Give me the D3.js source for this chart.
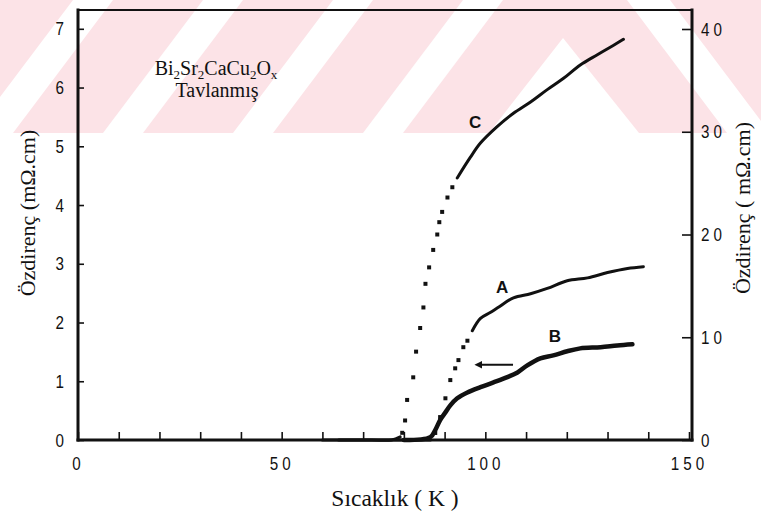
<!DOCTYPE html>
<html>
<head>
<meta charset="utf-8">
<script src="https://cdn.jsdelivr.net/npm/d3@7"></script>
<style>
  body { margin: 0; background: #fff; }
  svg { display: block; }
  .tick text {
    font-family: "Liberation Sans", "DejaVu Sans", sans-serif;
    font-size: 19px; letter-spacing: 5px; fill: #111;
  }
  .serif { font-family: "Liberation Serif", "Times New Roman", serif; fill: #111; }
  .curve-label { font-family: "Liberation Sans", sans-serif; font-weight: bold; font-size: 17px; fill: #111; }
</style>
</head>
<body>
<svg id="chart" width="761" height="514"></svg>
<script>
// ---- axis ticks ----
const xTicks = d3.range(0, 151, 10);
const xLabels = [0, 50, 100, 150];
const leftTicks = [0, 1, 2, 3, 4, 5, 6, 7];
const rightTicks = [0, 10, 20, 30, 40];

// ---- curve C (right axis, mΩ.cm): zero baseline, sparse transition points, dense normal-state trace ----
const cBaseT = [60, 66, 72, 77, 79.1];
const cBaseR = [0, 0, 0, 0, 0.3];
const cDotT = [79.6, 80.3, 80.8, 82.3, 83.0, 84.0, 84.8, 85.3, 86.2, 87.2, 88.2, 88.7, 89.4, 90.7, 91.9];
const cDotR = [0.7, 1.9, 3.9, 6.1, 8.6, 10.9, 12.9, 15.2, 16.8, 18.5, 20.0, 21.2, 22.2, 23.6, 24.6];
const cLineT = [93.1, 96.3, 98.8, 102.9, 106.9, 111.1, 115.2, 119.2, 123.3, 127.5, 131.4, 133.9];
const cLineR = [25.5, 27.5, 28.9, 30.5, 31.8, 32.9, 34.1, 35.2, 36.5, 37.5, 38.4, 39.0];

// ---- curve A (left axis, mΩ.cm) ----
const aBaseT = [64, 72, 80, 86.5];
const aBaseR = [0, 0, 0, 0];
const aDotT = [87.7, 88.9, 90.2, 91.4, 92.6, 93.4, 94.6, 95.6];
const aDotR = [0.12, 0.39, 0.71, 1.02, 1.22, 1.36, 1.58, 1.69];
const aLineT = [96.8, 98.8, 101.2, 103.0, 106.9, 111.1, 115.2, 120.1, 125.1, 130.0, 134.9, 138.8];
const aLineR = [1.86, 2.07, 2.17, 2.25, 2.42, 2.49, 2.58, 2.71, 2.76, 2.85, 2.92, 2.95];

// ---- curve B (left axis, mΩ.cm) ----
const bLineT = [80, 86.5, 87.7, 88.9, 90.2, 91.4, 93.1, 95.6, 98.8, 102.0, 105.4, 107.9, 110.3, 113.5, 116.7, 120.1, 123.3, 128.3, 132.4, 136.1];
const bLineR = [0, 0.05, 0.17, 0.34, 0.47, 0.59, 0.71, 0.81, 0.90, 0.98, 1.07, 1.15, 1.27, 1.39, 1.44, 1.51, 1.56, 1.58, 1.61, 1.63];

const svg = d3.select("#chart");
const W = 761, H = 514;
const plot = { left: 78, right: 692, top: 10, bottom: 440 };

// ---- background band ----
const bandH = 133;
const band = svg.append("g");
band.append("clipPath").attr("id", "bandClip")
  .append("rect").attr("x", 0).attr("y", 0).attr("width", W).attr("height", bandH);
const bg = band.append("g").attr("clip-path", "url(#bandClip)");
const pink = "#fce3e7";
bg.append("rect").attr("width", W).attr("height", bandH).attr("fill", pink);
const shift = 100, sw = 40;
for (let k = 0; k < 4; k++) {
  const x0 = 363 - 130 * k;
  bg.append("path").attr("fill", "#fff")
    .attr("d", `M${x0},${bandH} L${x0 + sw},${bandH} L${x0 + sw + shift},0 L${x0 + shift},0 Z`);
}
bg.append("path").attr("fill", "#fff").attr("d", `M489,${bandH} L563,38 L639,${bandH} Z`);
bg.append("path").attr("fill", "#fff").attr("d", `M627,0 L670,0 L770,${bandH} L727,${bandH} Z`);

// ---- scales ----
const x = d3.scaleLinear().domain([0, 150]).range([plot.left, 689]);
const yL = d3.scaleLinear().domain([0, 7.32]).range([plot.bottom, plot.top]);
const yR = d3.scaleLinear().domain([0, 41.85]).range([plot.bottom, plot.top]);

// ---- axes (ticks point into the plot) ----
const gx = svg.append("g").attr("transform", `translate(0,${plot.bottom})`)
  .call(d3.axisBottom(x).tickValues(xTicks).tickSize(-8).tickPadding(17)
    .tickFormat(d => xLabels.includes(d) ? d : ""));
const gl = svg.append("g").attr("transform", `translate(${plot.left},0)`)
  .call(d3.axisLeft(yL).tickValues(leftTicks).tickSize(-6).tickPadding(10).tickFormat(d3.format("d")));
const gr = svg.append("g").attr("transform", `translate(${plot.right},0)`)
  .call(d3.axisRight(yR).tickValues(rightTicks).tickSize(-10).tickPadding(9).tickFormat(d3.format("d")));

// narrow, widely spaced tick numerals
const squeeze = 0.8;
[gx, gl, gr].forEach(g => {
  g.select(".domain").remove();
  g.selectAll(".tick line").attr("stroke", "#111").attr("stroke-width", 1.6);
  g.selectAll(".tick text").each(function () {
    const t = d3.select(this);
    const x0 = +t.attr("x") || 0;
    t.attr("x", x0 / squeeze).attr("transform", `scale(${squeeze},1)`);
  });
});

// ---- frame ----
const frame = svg.append("g").attr("stroke", "#111").attr("stroke-linecap", "square");
frame.append("line").attr("x1", plot.left).attr("x2", plot.right).attr("y1", plot.top).attr("y2", plot.top).attr("stroke-width", 2);
frame.append("line").attr("x1", plot.left).attr("x2", plot.right).attr("y1", plot.bottom).attr("y2", plot.bottom).attr("stroke-width", 3);
frame.append("line").attr("x1", plot.left).attr("x2", plot.left).attr("y1", plot.top).attr("y2", plot.bottom).attr("stroke-width", 3);
frame.append("line").attr("x1", plot.right).attr("x2", plot.right).attr("y1", plot.top).attr("y2", plot.bottom).attr("stroke-width", 3);

// ---- curves ----
const zip = (ts, vs) => ts.map((t, i) => [t, vs[i]]);
function trace(ts, vs, yScale, width) {
  const line = d3.line().x(d => x(d[0])).y(d => yScale(d[1])).curve(d3.curveCatmullRom.alpha(0.5));
  svg.append("path").datum(zip(ts, vs)).attr("fill", "none").attr("stroke", "#111")
    .attr("stroke-width", width).attr("stroke-linejoin", "round").attr("stroke-linecap", "round")
    .attr("d", line);
}
function dots(ts, vs, yScale, size) {
  svg.append("g").selectAll("rect").data(zip(ts, vs)).join("rect")
    .attr("x", d => x(d[0]) - size / 2).attr("y", d => yScale(d[1]) - size / 2)
    .attr("width", size).attr("height", size).attr("fill", "#111");
}

trace(cBaseT, cBaseR, yR, 3);
dots(cDotT, cDotR, yR, 4);
trace(cLineT, cLineR, yR, 3);

trace(aBaseT, aBaseR, yL, 3);
dots(aDotT, aDotR, yL, 4);
trace(aLineT, aLineR, yL, 3);

trace(bLineT, bLineR, yL, 4.5);

// ---- curve labels and arrow (B is read on the left axis) ----
const labels = [
  { text: "C", t: 97.5, v: 30.9, s: yR },
  { text: "A", t: 104.1, v: 2.60, s: yL },
  { text: "B", t: 117.1, v: 1.77, s: yL }
];
svg.append("g").selectAll("text").data(labels).join("text")
  .attr("class", "curve-label").attr("text-anchor", "middle").attr("dominant-baseline", "central")
  .attr("x", d => x(d.t)).attr("y", d => d.s(d.v)).text(d => d.text);

const arrowV = 1.28, arrowFrom = 106.8, arrowTo = 98.9;
svg.append("defs").append("marker").attr("id", "head").attr("viewBox", "0 0 10 10")
  .attr("refX", 2).attr("refY", 5).attr("markerWidth", 4).attr("markerHeight", 4)
  .attr("orient", "auto-start-reverse")
  .append("path").attr("d", "M0,0 L10,5 L0,10 Z").attr("fill", "#111");
svg.append("line").attr("x1", x(arrowFrom)).attr("x2", x(arrowTo)).attr("y1", yL(arrowV)).attr("y2", yL(arrowV))
  .attr("stroke", "#111").attr("stroke-width", 2).attr("marker-end", "url(#head)");

// ---- sample annotation ----
const note = svg.append("text").attr("class", "serif").attr("x", 216).attr("y", 75)
  .attr("text-anchor", "middle").attr("font-size", 20);
[["Bi", 0], ["2", 1], ["Sr", 0], ["2", 1], ["CaCu", 0], ["2", 1], ["O", 0], ["x", 1]].forEach(([s, sub]) => {
  note.append("tspan").text(s).attr("font-size", sub ? 13 : 20)
    .attr("baseline-shift", sub ? "-4" : null);
});
svg.append("text").attr("class", "serif").attr("x", 217).attr("y", 97)
  .attr("text-anchor", "middle").attr("font-size", 20).text("Tavlanmış");

// ---- axis titles ----
svg.append("text").attr("class", "serif").attr("font-size", 22).attr("text-anchor", "middle")
  .attr("transform", "translate(35,213) rotate(-90)").text("Özdirenç (mΩ.cm)");
svg.append("text").attr("class", "serif").attr("font-size", 22).attr("text-anchor", "middle")
  .attr("transform", "translate(750,208) rotate(-90)").text("Özdirenç ( mΩ.cm)");
svg.append("text").attr("class", "serif").attr("font-size", 23.5).attr("text-anchor", "middle")
  .attr("x", 395).attr("y", 506).text("Sıcaklık ( K )");
</script>
</body>
</html>
